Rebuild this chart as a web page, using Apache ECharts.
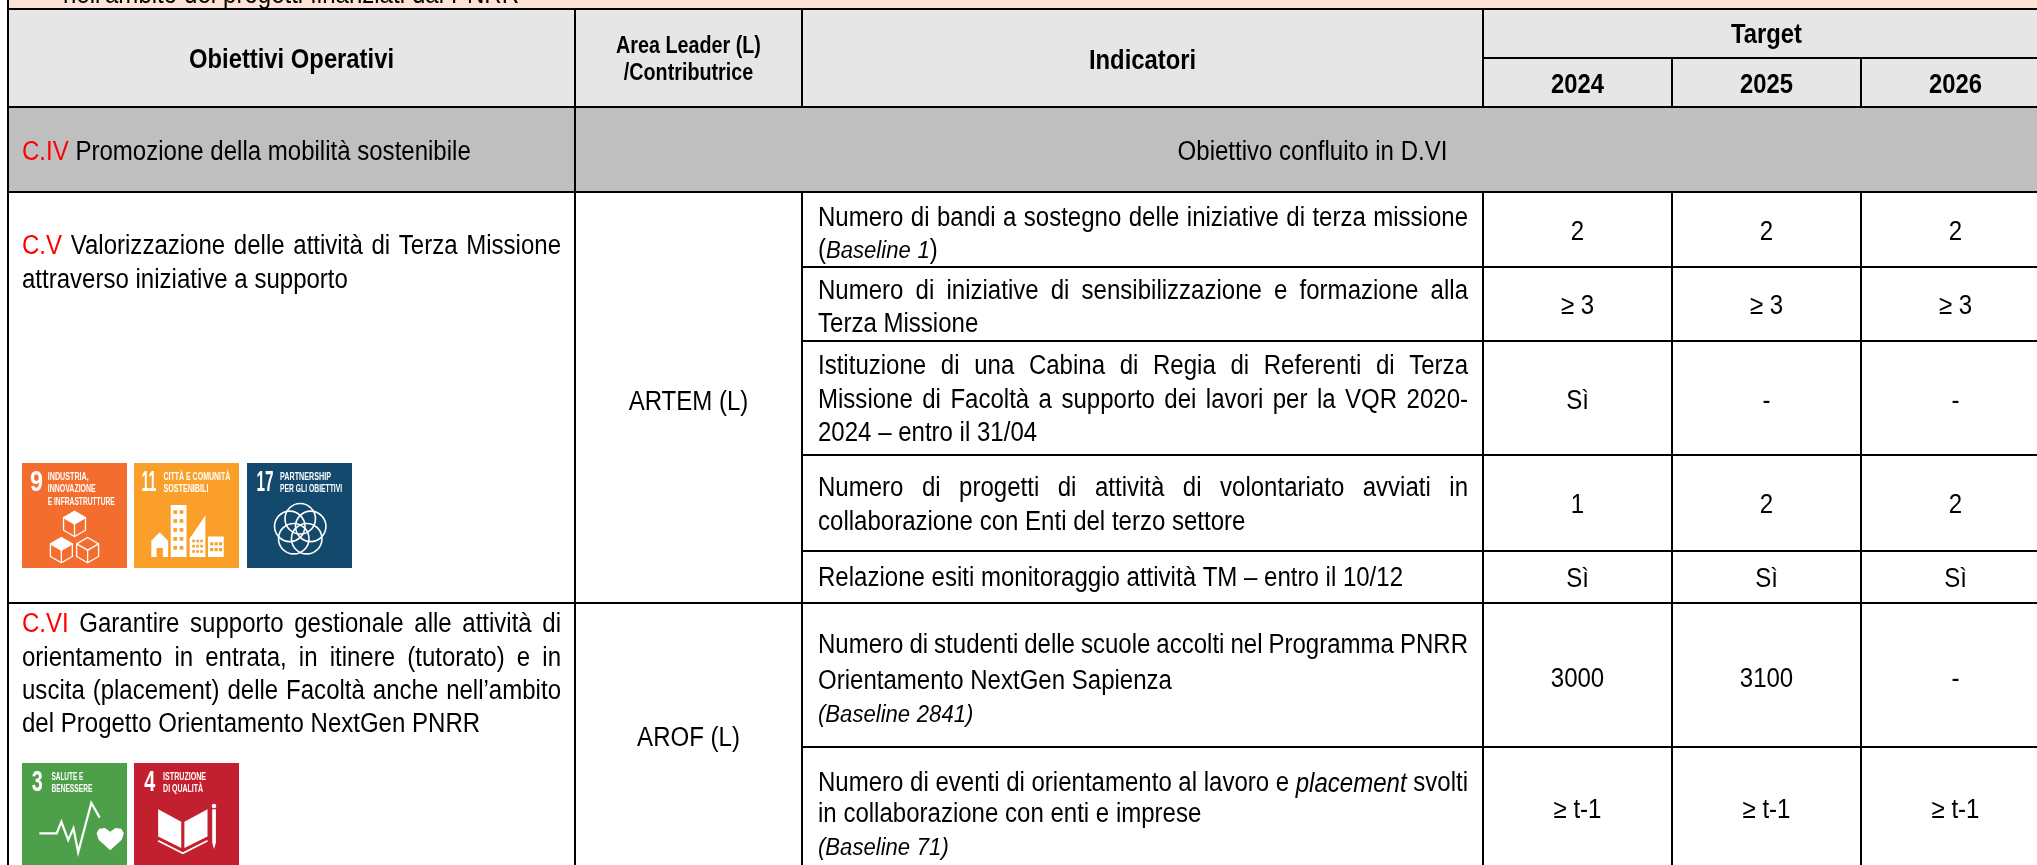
<!DOCTYPE html>
<html>
<head>
<meta charset="utf-8">
<style>html,body{margin:0;padding:0;background:#fff}#main{width:2037px;height:865px}</style>
<script src="https://cdn.jsdelivr.net/npm/echarts@6/dist/echarts.min.js"></script>
</head>
<body>
<div id="main"></div>
<script>
// table text, '=' at start of a line means justified, {r|..} red, {i|..} italic, {b|..} small italic
var strip = ["=nell'ambito dei progetti finanziati dal PNRR"];
var headers = ['Obiettivi Operativi', 'Indicatori', 'Target'];
var areaHeader = ['Area Leader (L)', '/Contributrice'];
var years = ['2024', '2025', '2026'];
var objectiveIV = ['{r|C.IV} Promozione della mobilità sostenibile'];
var mergedNote = ['Obiettivo confluito in D.VI'];
var objectiveV = [
  '={r|C.V} Valorizzazione delle attività di Terza Missione',
  'attraverso iniziative a supporto'
];
var objectiveVI = [
  '={r|C.VI} Garantire supporto gestionale alle attività di',
  '=orientamento in entrata, in itinere (tutorato) e in',
  '=uscita (placement) delle Facoltà anche nell’ambito',
  'del Progetto Orientamento NextGen PNRR'
];
var areas = ['ARTEM (L)', 'AROF (L)'];
var indicators = [
  ['=Numero di bandi a sostegno delle iniziative di terza missione', '({b|Baseline 1})'],
  ['=Numero di iniziative di sensibilizzazione e formazione alla', 'Terza Missione'],
  ['=Istituzione di una Cabina di Regia di Referenti di Terza', '=Missione di Facoltà a supporto dei lavori per la VQR 2020-', '2024 – entro il 31/04'],
  ['=Numero di progetti di attività di volontariato avviati in', 'collaborazione con Enti del terzo settore'],
  ['Relazione esiti monitoraggio attività TM – entro il 10/12'],
  ['=Numero di studenti delle scuole accolti nel Programma PNRR', 'Orientamento NextGen Sapienza', '{b|(Baseline 2841)}'],
  ['=Numero di eventi di orientamento al lavoro e {i|placement} svolti', 'in collaborazione con enti e imprese', '{b|(Baseline 71)}']
];
var target2024 = ['2', '≥ 3', 'Sì', '1', 'Sì', '3000', '≥ t-1'];
var target2025 = ['2', '≥ 3', '-', '2', 'Sì', '3100', '≥ t-1'];
var target2026 = ['2', '≥ 3', '-', '2', 'Sì', '-', '≥ t-1'];
var badgeNumbers = ['9', '11', '17', '3', '4'];
var badgeCaptions = [
  ['INDUSTRIA,', 'INNOVAZIONE', 'E INFRASTRUTTURE'],
  ['CITTÀ E COMUNITÀ', 'SOSTENIBILI'],
  ['PARTNERSHIP', 'PER GLI OBIETTIVI'],
  ['SALUTE E', 'BENESSERE'],
  ['ISTRUZIONE', 'DI QUALITÀ']
];
var badgeColors = ['#f36d2e', '#fa9f29', '#14496e', '#4d9f49', '#c3202f'];

// layout of the table, on a hidden axis pair in page units
var colEdges = [8, 575, 802, 1483, 1672, 1861, 2050];
var rowEdges = [9, 58, 107, 192, 267, 341, 455, 551, 603, 747, 865];
var indicatorLineY = [[217, 249], [290, 323], [365, 399, 432], [487, 521], [577], [644, 680, 713], [782, 813, 846]];
var targetY = [231, 305, 400, 504, 578, 678, 809];
var badgeX = [22, 134, 247, 22, 134];
var badgeY = [463, 463, 463, 763, 763];
var badgeW = 105;
var badgeNumX = [0.137, 0.143, 0.171, 0.145, 0.15];
var badgeNumW = [13, 15, 17, 11, 11];
var badgeCapX = [0.245, 0.28, 0.315, 0.28, 0.277];
var badgeCapW = [[41, 48, 67], [67, 45], [51, 62], [32, 41], [43, 40]];

// no narrow face installed, so the sans is squeezed sideways
var FONT = '"Liberation Sans",sans-serif';
var NARROW = 0.89;
var NARROW_BOLD = 0.85;
var SIZE = 27;
var TEXT_DROP = 2; // em box middle sits above the visual middle of the glyphs
var measure = document.createElement('canvas').getContext('2d');

function fontOf(size, kind, bold) {
  var italic = kind === 'i' || kind === 'b';
  return (italic ? 'italic ' : '') + (bold ? 'bold ' : '') + (kind === 'b' ? size * 0.92 : size) + 'px ' + FONT;
}

// one line of markup -> words made of styled segments
function parseLine(line) {
  var words = [], cur = [];
  var re = /\{(\w)\|([^}]*)\}|([^{]+)/g, m;
  while ((m = re.exec(line))) {
    var kind = m[1] || '';
    var parts = (m[1] ? m[2] : m[3]).split(/( +)/);
    parts.forEach(function (p) {
      if (!p) return;
      if (/^ +$/.test(p)) {
        if (cur.length) words.push(cur);
        cur = [];
      } else {
        cur.push({ text: p, kind: kind });
      }
    });
  }
  if (cur.length) words.push(cur);
  return words;
}

var textItems = [];
function addText(line, x0, x1, y, size, align, bold, squeeze) {
  var justify = line.charAt(0) === '=';
  textItems.push({
    words: parseLine(justify ? line.slice(1) : line),
    x0: x0, x1: x1, y: y + TEXT_DROP, size: size,
    align: justify ? 'justify' : align, bold: bold,
    squeeze: squeeze || (bold ? NARROW_BOLD : NARROW)
  });
}

addText(strip[0], 63, 519, -6, SIZE, 'left');
addText(headers[0], colEdges[0], colEdges[1], 58, 28, 'center', true);
addText(areaHeader[0], colEdges[1], colEdges[2], 45, 23.5, 'center', true, 0.84);
addText(areaHeader[1], colEdges[1], colEdges[2], 72, 23.5, 'center', true, 0.84);
addText(headers[1], colEdges[2], colEdges[3], 59, 28, 'center', true);
addText(headers[2], colEdges[3], colEdges[6], 33, 28, 'center', true);
years.forEach(function (y, i) {
  addText(y, colEdges[3 + i], colEdges[4 + i], 83, 28, 'center', true);
});
addText(objectiveIV[0], 22, 561, 151, SIZE, 'left');
addText(mergedNote[0], colEdges[1], 2050, 151, SIZE, 'center');
[245, 279].forEach(function (y, i) { addText(objectiveV[i], 22, 561, y, SIZE, 'left'); });
[623, 657, 690, 723].forEach(function (y, i) { addText(objectiveVI[i], 22, 561, y, SIZE, 'left'); });
addText(areas[0], colEdges[1], colEdges[2], 401, SIZE, 'center');
addText(areas[1], colEdges[1], colEdges[2], 737, SIZE, 'center');
indicators.forEach(function (lines, r) {
  lines.forEach(function (l, i) {
    addText(l, 818, 1468, indicatorLineY[r][i], SIZE, 'left');
  });
  [target2024, target2025, target2026].forEach(function (t, c) {
    addText(t[r], colEdges[3 + c], colEdges[4 + c], targetY[r], SIZE, 'center');
  });
});

// fills: x0, y0, x1, y1, colour
var fills = [
  [colEdges[0], 0, colEdges[6], rowEdges[0], '#fde3d5'],
  [colEdges[0], rowEdges[0], colEdges[6], rowEdges[2], '#e6e6e6'],
  [colEdges[0], rowEdges[2], colEdges[6], rowEdges[3], '#bfbfbf']
];
// borders: x0, y0, x1, y1
var borders = [
  [colEdges[0], 0, colEdges[0], 865],
  [colEdges[1], rowEdges[0], colEdges[1], 865],
  [colEdges[2], rowEdges[0], colEdges[2], rowEdges[2]],
  [colEdges[3], rowEdges[0], colEdges[3], rowEdges[2]],
  [colEdges[2], rowEdges[3], colEdges[2], 865],
  [colEdges[3], rowEdges[3], colEdges[3], 865],
  [colEdges[4], rowEdges[1], colEdges[4], rowEdges[2]],
  [colEdges[5], rowEdges[1], colEdges[5], rowEdges[2]],
  [colEdges[4], rowEdges[3], colEdges[4], 865],
  [colEdges[5], rowEdges[3], colEdges[5], 865],
  [colEdges[0], rowEdges[0], colEdges[6], rowEdges[0]],
  [colEdges[0], rowEdges[2], colEdges[6], rowEdges[2]],
  [colEdges[0], rowEdges[3], colEdges[6], rowEdges[3]],
  [colEdges[3], rowEdges[1], colEdges[6], rowEdges[1]],
  [colEdges[2], rowEdges[4], colEdges[6], rowEdges[4]],
  [colEdges[2], rowEdges[5], colEdges[6], rowEdges[5]],
  [colEdges[2], rowEdges[6], colEdges[6], rowEdges[6]],
  [colEdges[2], rowEdges[7], colEdges[6], rowEdges[7]],
  [colEdges[0], rowEdges[8], colEdges[6], rowEdges[8]],
  [colEdges[2], rowEdges[9], colEdges[6], rowEdges[9]]
];

function cube(cx, cy, s) {
  return [
    { pts: [[cx, cy - s], [cx + s * 0.87, cy - s / 2], [cx + s * 0.87, cy + s / 2], [cx, cy + s], [cx - s * 0.87, cy + s / 2], [cx - s * 0.87, cy - s / 2]], close: true },
    { pts: [[cx - s * 0.87, cy - s / 2], [cx, cy], [cx + s * 0.87, cy - s / 2]] },
    { pts: [[cx, cy], [cx, cy + s]] }
  ];
}
function topFace(cx, cy, s) {
  return { pts: [[cx, cy - s], [cx + s * 0.87, cy - s / 2], [cx, cy], [cx - s * 0.87, cy - s / 2]], fill: true };
}
function windows(color, x0, y0, cols, rows, w, h, dx, dy) {
  var out = [];
  for (var c = 0; c < cols; c++) {
    for (var r = 0; r < rows; r++) {
      var x = x0 + c * dx, y = y0 + r * dy;
      out.push({ pts: [[x, y], [x + w, y], [x + w, y + h], [x, y + h]], fill: true, color: color });
    }
  }
  return out;
}
function flower() {
  var out = [];
  for (var i = 0; i < 5; i++) {
    var a = (-90 + 72 * i) * Math.PI / 180;
    out.push({ circle: [0.507 + 0.105 * Math.cos(a), 0.636 + 0.105 * Math.sin(a)], r: 0.145 });
  }
  return out;
}

// icons in badge fractions
var badgeIcons = [
  [].concat(cube(0.5, 0.58, 0.12), cube(0.375, 0.83, 0.12), cube(0.625, 0.83, 0.12),
    [topFace(0.5, 0.58, 0.12), topFace(0.375, 0.83, 0.12)]),
  [
    { pts: [[0.35, 0.4], [0.5, 0.4], [0.5, 0.895], [0.35, 0.895]], fill: true },
    { pts: [[0.165, 0.74], [0.245, 0.66], [0.325, 0.74], [0.325, 0.895], [0.165, 0.895]], fill: true },
    { pts: [[0.53, 0.895], [0.53, 0.72], [0.68, 0.5], [0.68, 0.895]], fill: true },
    { pts: [[0.705, 0.7], [0.855, 0.7], [0.855, 0.895], [0.705, 0.895]], fill: true },
    { pts: [[0.215, 0.81], [0.275, 0.81], [0.275, 0.895], [0.215, 0.895]], fill: true, color: '#fa9f29' }
  ].concat(
    windows('#fa9f29', 0.375, 0.45, 2, 5, 0.035, 0.035, 0.06, 0.085),
    windows('#fa9f29', 0.555, 0.73, 3, 3, 0.025, 0.025, 0.038, 0.05),
    windows('#fa9f29', 0.725, 0.755, 3, 2, 0.03, 0.03, 0.042, 0.055)
  ),
  flower(),
  [
    { pts: [[0.165, 0.67], [0.33, 0.67], [0.375, 0.56], [0.44, 0.735], [0.49, 0.62], [0.535, 0.85], [0.66, 0.38], [0.74, 0.52]], width: 2.2 },
    { pts: [[0.84, 0.655], [0.89, 0.62], [0.945, 0.625], [0.97, 0.67], [0.95, 0.73], [0.84, 0.83], [0.73, 0.73], [0.71, 0.67], [0.735, 0.625], [0.79, 0.62]], fill: true }
  ],
  [
    { pts: [[0.23, 0.44], [0.45, 0.56], [0.45, 0.81], [0.23, 0.7]], fill: true },
    { pts: [[0.48, 0.56], [0.7, 0.44], [0.7, 0.7], [0.48, 0.81]], fill: true },
    { pts: [[0.23, 0.74], [0.465, 0.86], [0.7, 0.74]], width: 1.8 },
    { pts: [[0.745, 0.44], [0.78, 0.44], [0.78, 0.76], [0.762, 0.82], [0.745, 0.76]], fill: true },
    { circle: [0.762, 0.41], r: 0.022, fill: true }
  ]
];

function renderFill(params, api) {
  var a = api.coord([api.value(0), api.value(1)]);
  var b = api.coord([api.value(2), api.value(3)]);
  return { type: 'rect', shape: { x: a[0], y: a[1], width: b[0] - a[0], height: b[1] - a[1] }, style: { fill: fills[params.dataIndex][4] } };
}

function renderBorder(params, api) {
  var a = api.coord([api.value(0), api.value(1)]);
  var b = api.coord([api.value(2), api.value(3)]);
  return { type: 'line', shape: { x1: a[0], y1: a[1], x2: b[0], y2: b[1] }, style: { stroke: '#000', lineWidth: 2 } };
}

function renderText(params, api) {
  var item = textItems[params.dataIndex];
  var left = api.coord([api.value(0), api.value(2)]);
  var right = api.coord([api.value(1), api.value(2)]);
  var w = right[0] - left[0];
  measure.font = fontOf(item.size, '', item.bold);
  var space = measure.measureText(' ').width * item.squeeze;
  var sizes = item.words.map(function (word) {
    return word.reduce(function (s, seg) {
      measure.font = fontOf(item.size, seg.kind, item.bold);
      seg.w = measure.measureText(seg.text).width * item.squeeze;
      return s + seg.w;
    }, 0);
  });
  var sum = sizes.reduce(function (s, v) { return s + v; }, 0);
  var gap = space;
  var x = left[0];
  if (item.align === 'justify' && sizes.length > 1) gap = (w - sum) / (sizes.length - 1);
  if (item.align === 'center') x += (w - sum - gap * (sizes.length - 1)) / 2;
  var children = [];
  item.words.forEach(function (word, i) {
    var sx = x;
    word.forEach(function (seg) {
      children.push({
        type: 'text', x: sx, y: left[1], scaleX: item.squeeze,
        style: {
          text: seg.text, font: fontOf(item.size, seg.kind, item.bold),
          fill: seg.kind === 'r' ? '#ff0000' : '#000',
          align: 'left', verticalAlign: 'middle'
        }
      });
      sx += seg.w;
    });
    x += sizes[i] + gap;
  });
  return { type: 'group', children: children };
}

function fitted(text, font, width) {
  measure.font = font;
  return width / measure.measureText(text).width;
}

function renderBadge(params, api) {
  var i = params.dataIndex;
  var o = api.coord([api.value(0), api.value(1)]);
  var e = api.coord([api.value(0) + api.value(2), api.value(1) + api.value(2)]);
  var s = e[0] - o[0];
  function px(p) { return [o[0] + p[0] * s, o[1] + p[1] * s]; }
  var children = [{ type: 'rect', shape: { x: o[0], y: o[1], width: s, height: s }, style: { fill: badgeColors[i] } }];
  var numFont = 'bold 30px ' + FONT;
  children.push({
    type: 'text', x: o[0] + badgeNumX[i] * s, y: o[1] + 0.19 * s,
    scaleX: fitted(badgeNumbers[i], numFont, badgeNumW[i]),
    style: { text: badgeNumbers[i], font: numFont, fill: '#fff', align: 'center', verticalAlign: 'middle' }
  });
  var capFont = 'bold 11.5px ' + FONT;
  badgeCaptions[i].forEach(function (c, k) {
    children.push({
      type: 'text', x: o[0] + badgeCapX[i] * s, y: o[1] + (0.13 + 0.118 * k) * s,
      scaleX: fitted(c, capFont, badgeCapW[i][k]),
      style: { text: c, font: capFont, fill: '#fff', align: 'left', verticalAlign: 'middle' }
    });
  });
  badgeIcons[i].forEach(function (g) {
    if (g.circle) {
      var c = px(g.circle);
      children.push({
        type: 'circle', shape: { cx: c[0], cy: c[1], r: g.r * s },
        style: g.fill ? { fill: '#fff' } : { fill: 'none', stroke: '#fff', lineWidth: 1.6 }
      });
      return;
    }
    var pts = g.pts.map(px);
    if (g.fill) {
      children.push({ type: 'polygon', shape: { points: pts }, style: { fill: g.color || '#fff' } });
    } else {
      children.push({
        type: g.close ? 'polygon' : 'polyline', shape: { points: pts },
        style: { fill: 'none', stroke: '#fff', lineWidth: g.width || 1.3 }
      });
    }
  });
  return { type: 'group', children: children };
}

var chart = echarts.init(document.getElementById('main'), null, { renderer: 'canvas' });
chart.setOption({
  animation: false,
  backgroundColor: '#fff',
  tooltip: { show: false },
  grid: { left: 0, right: 0, top: 0, bottom: 0 },
  xAxis: { type: 'value', min: 0, max: 2037, show: false },
  yAxis: { type: 'value', min: 0, max: 865, inverse: true, show: false },
  series: [
    { type: 'custom', silent: true, z: 1, renderItem: renderFill, data: fills.map(function (f) { return f.slice(0, 4); }) },
    { type: 'custom', silent: true, z: 2, renderItem: renderBorder, data: borders },
    { type: 'custom', silent: true, z: 3, renderItem: renderBadge, data: badgeX.map(function (x, i) { return [x, badgeY[i], badgeW]; }) },
    { type: 'custom', silent: true, z: 4, renderItem: renderText, data: textItems.map(function (t) { return [t.x0, t.x1, t.y]; }) }
  ]
});
</script>
</body>
</html>
